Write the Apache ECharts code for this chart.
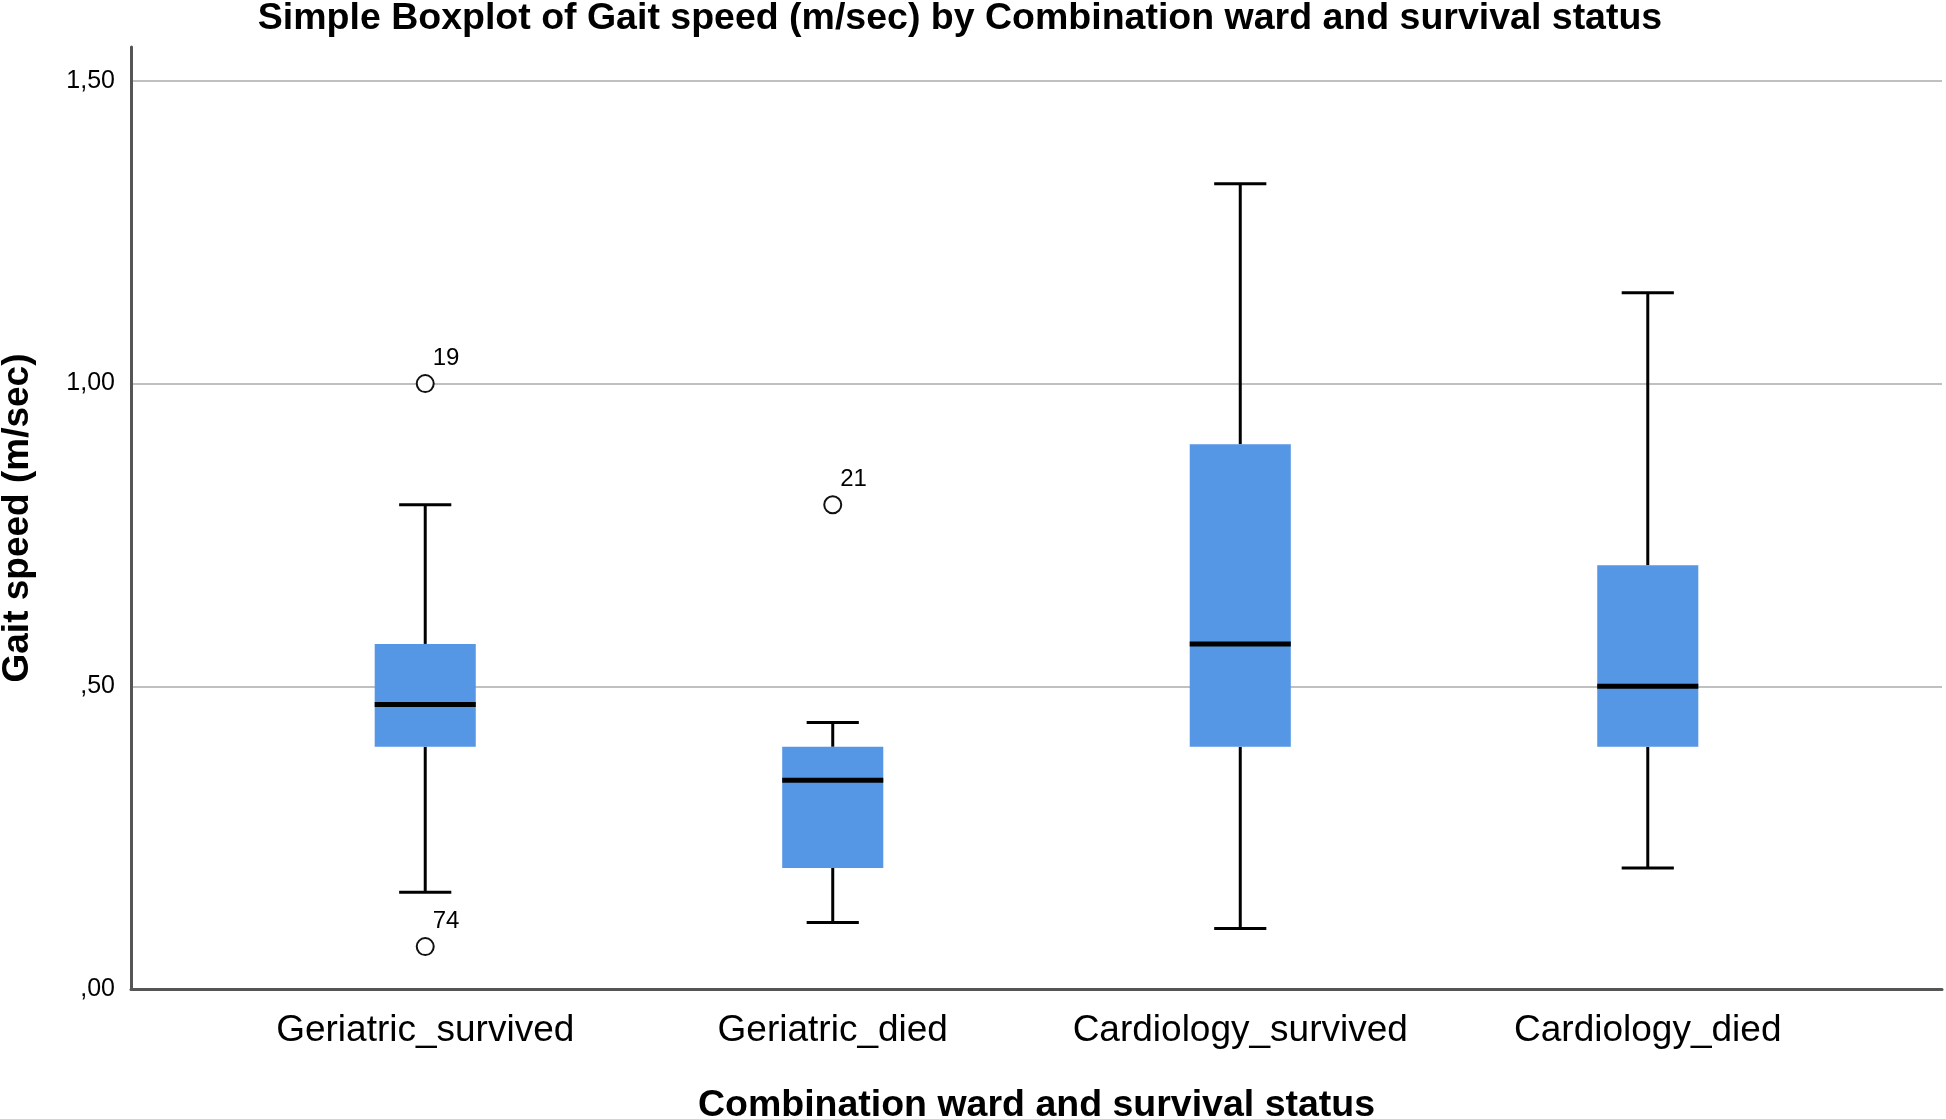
<!DOCTYPE html>
<html>
<head>
<meta charset="utf-8">
<script src="https://cdn.jsdelivr.net/npm/echarts@6/dist/echarts.min.js"></script>
<style>
html,body{margin:0;padding:0;background:#fff;}
#chart{width:1946px;height:1119px;}
</style>
</head>
<body>
<div id="chart"></div>
<script>
// ---- data ----
const categories = ['Geriatric_survived', 'Geriatric_died', 'Cardiology_survived', 'Cardiology_died'];
const whiskerLow  = [0.16, 0.11, 0.10, 0.20];
const q1          = [0.40, 0.20, 0.40, 0.40];
const median      = [0.47, 0.345, 0.57, 0.50];
const q3          = [0.57, 0.40, 0.90, 0.70];
const whiskerHigh = [0.80, 0.44, 1.33, 1.15];
const outlierCategory = [0, 0, 1];
const outlierValue    = [1.00, 0.07, 0.80];
const outlierCase     = ['19', '74', '21'];
const yTicks = [0, 0.5, 1.0, 1.5];

const boxData = categories.map((c, i) => [i, whiskerLow[i], q1[i], median[i], q3[i], whiskerHigh[i]]);
const outlierData = outlierValue.map((v, i) => [outlierCategory[i], v, outlierCase[i]]);

const FONT = '"Liberation Sans", Arial, sans-serif';
const BOX_W = 0.248;  // in category units
const CAP_W = 0.128;

function fmtY(v) {
  return v.toFixed(2).replace('.', ',').replace(/^0/, '');
}

const chart = echarts.init(document.getElementById('chart'));
chart.setOption({
  backgroundColor: '#ffffff',
  animation: false,
  title: {
    text: 'Simple Boxplot of Gait speed (m/sec) by Combination ward and survival status',
    left: 960,
    textAlign: 'center',
    top: 0,
    padding: 0,
    textStyle: { fontFamily: FONT, fontSize: 37.5, fontWeight: 'bold', color: '#000' }
  },
  grid: { left: 131, right: 4, top: 47, bottom: 130, containLabel: false, outerBoundsMode: 'none' },
  xAxis: {
    type: 'value',
    min: -0.722,
    max: 3.722,
    name: 'Combination ward and survival status',
    nameLocation: 'middle',
    nameGap: 98,
    nameTextStyle: { fontFamily: FONT, fontSize: 37.5, fontWeight: 'bold', color: '#000' },
    axisLine: { show: true, onZero: false, lineStyle: { color: '#555', width: 3 } },
    axisTick: { show: false },
    splitLine: { show: false },
    axisLabel: {
      customValues: categories.map((c, i) => i),
      formatter: v => categories[Math.round(v)] || '',
      fontFamily: FONT, fontSize: 37, color: '#000', margin: 23
    }
  },
  yAxis: {
    type: 'value',
    min: 0,
    max: 1.556,
    interval: 0.5,
    name: 'Gait speed (m/sec)',
    nameLocation: 'middle',
    nameGap: 95,
    nameTextStyle: { fontFamily: FONT, fontSize: 37, fontWeight: 'bold', color: '#000' },
    axisLine: { show: true, onZero: false, lineStyle: { color: '#555', width: 3 } },
    axisTick: { show: false },
    axisLabel: {
      customValues: yTicks,
      formatter: v => fmtY(v),
      fontFamily: FONT, fontSize: 25, color: '#000', margin: 16
    },
    splitLine: { show: true, showMinLine: false, showMaxLine: false, lineStyle: { color: '#c0c0c0', width: 2 } }
  },
  series: [
    {
      type: 'custom',
      data: boxData,
      encode: { x: 0, y: [1, 2, 3, 4, 5] },
      z: 3,
      renderItem: function (params, api) {
        const x = api.value(0);
        const pLo = api.coord([x, api.value(1)]);
        const pQ1 = api.coord([x, api.value(2)]);
        const pMed = api.coord([x, api.value(3)]);
        const pQ3 = api.coord([x, api.value(4)]);
        const pHi = api.coord([x, api.value(5)]);
        const bw = api.size([BOX_W, 0])[0];
        const cw = api.size([CAP_W, 0])[0];
        const cx = pQ1[0];
        const lineStyle = { stroke: '#000', lineWidth: 3, fill: null };
        return {
          type: 'group',
          children: [
            { type: 'line', shape: { x1: cx, y1: pQ1[1], x2: cx, y2: pLo[1] }, style: lineStyle },
            { type: 'line', shape: { x1: cx - cw / 2, y1: pLo[1], x2: cx + cw / 2, y2: pLo[1] }, style: lineStyle },
            { type: 'line', shape: { x1: cx, y1: pQ3[1], x2: cx, y2: pHi[1] }, style: lineStyle },
            { type: 'line', shape: { x1: cx - cw / 2, y1: pHi[1], x2: cx + cw / 2, y2: pHi[1] }, style: lineStyle },
            { type: 'rect', shape: { x: cx - bw / 2, y: pQ3[1], width: bw, height: pQ1[1] - pQ3[1] },
              style: { fill: '#5596e5', stroke: null } },
            { type: 'line', shape: { x1: cx - bw / 2, y1: pMed[1], x2: cx + bw / 2, y2: pMed[1] },
              style: { stroke: '#000', lineWidth: 5 } }
          ]
        };
      }
    },
    {
      type: 'scatter',
      data: outlierData,
      z: 4,
      symbol: 'circle',
      symbolSize: 17,
      itemStyle: { color: '#ffffff', borderColor: '#111', borderWidth: 2, opacity: 1 },
      label: {
        show: true,
        formatter: p => p.data[2],
        position: [17, -4],
        align: 'left',
        verticalAlign: 'bottom',
        fontFamily: FONT, fontSize: 24, color: '#000'
      }
    }
  ]
});
</script>
</body>
</html>
